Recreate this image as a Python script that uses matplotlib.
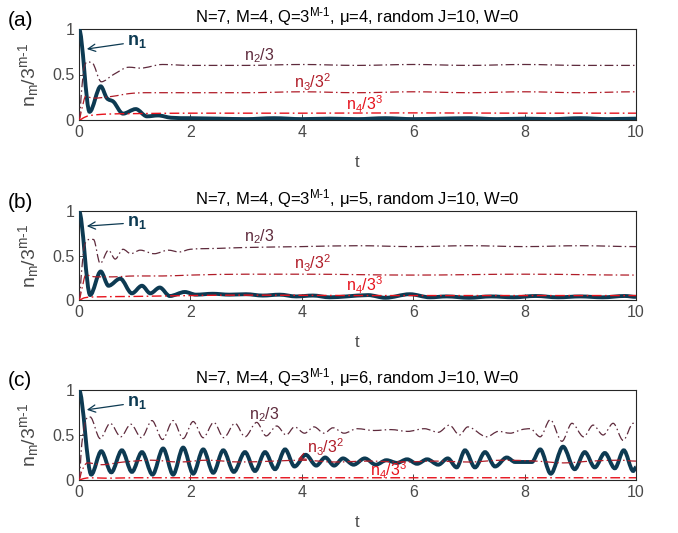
import matplotlib
matplotlib.use("Agg")
import matplotlib.pyplot as plt
from matplotlib.path import Path
from matplotlib.patches import PathPatch

plt.rcParams['font.family'] = ['Liberation Sans', 'DejaVu Sans']
plt.rcParams['mathtext.fontset'] = 'custom'
plt.rcParams['mathtext.rm'] = 'Liberation Sans'
plt.rcParams['mathtext.it'] = 'Liberation Sans:italic'
plt.rcParams['mathtext.bf'] = 'Liberation Sans:bold'

# ---- data ----
# panel (a), mu=4
t_a_n1 = [0, 0.19, 0.39, 0.5, 0.62, 0.79, 1.02, 1.22, 1.42, 1.65, 2.0, 2.5, 3.0, 3.5, 4.0,
          4.5, 5.0, 5.5, 6.0, 6.5, 7.0, 7.5, 8.0, 8.5, 9.0, 9.5, 10.0]
a_n1 = [1.0, 0.09, 0.37, 0.24, 0.2, 0.07, 0.12, 0.04, 0.05, 0.025, 0.02, 0.015, 0.01, 0.02, 0.01,
        0.015, 0.01, 0.02, 0.01, 0.015, 0.02, 0.01, 0.015, 0.01, 0.02, 0.01, 0.015]
t_a_n2 = [0, 0.05, 0.1, 0.23, 0.4, 0.62, 0.9, 1.1, 1.5, 2.0, 3.0, 4.0, 5.0, 6.0, 7.0, 8.0, 9.0, 10.0]
a_n2 = [0, 0.35, 0.6, 0.63, 0.42, 0.5, 0.58, 0.57, 0.61, 0.6, 0.6, 0.61, 0.6, 0.61, 0.6, 0.61, 0.6, 0.6]
t_a_n3 = [0, 0.05, 0.12, 0.25, 0.6, 0.9, 1.2, 2.0, 3.0, 4.0, 5.0, 6.0, 7.0, 8.0, 9.0, 10.0]
a_n3 = [0, 0.12, 0.26, 0.24, 0.26, 0.29, 0.3, 0.3, 0.3, 0.31, 0.3, 0.31, 0.3, 0.31, 0.3, 0.31]
t_a_n4 = [0, 0.1, 0.2, 0.5, 1.0, 2.0, 4.0, 6.0, 8.0, 10.0]
a_n4 = [0, 0.03, 0.05, 0.065, 0.07, 0.075, 0.075, 0.078, 0.075, 0.075]

# panel (b), mu=5
t_b_n1 = [0, 0.2, 0.39, 0.53, 0.74, 0.95, 1.13, 1.28, 1.45, 1.63, 1.9, 2.1, 2.4, 2.7, 3.0, 3.3,
          3.6, 3.9, 4.2, 4.5, 4.8, 5.19, 5.5, 5.94, 6.3, 6.6, 7.0, 7.4, 7.8, 8.2, 8.6, 9.0, 9.4,
          9.8, 10.0]
b_n1 = [1.0, 0.056, 0.32, 0.16, 0.24, 0.075, 0.16, 0.075, 0.14, 0.045, 0.09, 0.06, 0.07, 0.06,
        0.065, 0.05, 0.06, 0.04, 0.05, 0.03, 0.04, 0.055, 0.025, 0.065, 0.03, 0.04, 0.025, 0.04,
        0.03, 0.045, 0.03, 0.04, 0.03, 0.045, 0.035]
t_b_n2 = [0, 0.05, 0.1, 0.26, 0.38, 0.53, 0.65, 0.79, 0.93, 1.1, 1.35, 1.6, 1.8, 2.0, 2.5, 3.0,
          4.0, 5.0, 6.0, 7.0, 8.0, 9.0, 10.0]
b_n2 = [0, 0.35, 0.62, 0.68, 0.41, 0.56, 0.46, 0.57, 0.52, 0.56, 0.52, 0.56, 0.54, 0.57, 0.58,
        0.59, 0.6, 0.61, 0.6, 0.61, 0.6, 0.61, 0.6]
t_b_n3 = [0, 0.05, 0.12, 0.3, 0.6, 1.0, 1.5, 2.0, 3.0, 4.0, 6.0, 8.0, 10.0]
b_n3 = [0, 0.12, 0.28, 0.26, 0.26, 0.27, 0.27, 0.28, 0.29, 0.29, 0.28, 0.29, 0.28]
t_b_n4 = [0, 0.1, 0.3, 1.0, 2.0, 3.0, 5.0, 7.0, 10.0]
b_n4 = [0, 0.025, 0.035, 0.04, 0.05, 0.055, 0.05, 0.05, 0.05]

# panel (c), mu=6
t_c_n1 = [0, 0.22, 0.40, 0.58, 0.77, 0.95, 1.13, 1.32, 1.51, 1.69, 1.87, 2.05, 2.23, 2.41, 2.59,
          2.78, 2.98, 3.16, 3.34, 3.52, 3.70, 3.87, 4.07, 4.26, 4.42, 4.58, 4.74, 4.93, 5.13,
          5.33, 5.52, 5.71, 5.89, 6.07, 6.25, 6.45, 6.62, 6.78, 6.93, 7.11, 7.29, 7.47, 7.68,
          7.83, 8.0, 8.13, 8.28, 8.47, 8.69, 8.9, 9.08, 9.26, 9.44, 9.62, 9.78, 9.95, 10.0]
c_n1 = [1.0, 0.06, 0.32, 0.085, 0.33, 0.09, 0.31, 0.06, 0.35, 0.06, 0.36, 0.07, 0.34, 0.08, 0.33,
        0.09, 0.31, 0.10, 0.31, 0.12, 0.34, 0.15, 0.28, 0.16, 0.25, 0.16, 0.24, 0.17, 0.24,
        0.17, 0.22, 0.19, 0.23, 0.18, 0.23, 0.17, 0.24, 0.14, 0.33, 0.14, 0.31, 0.15, 0.25,
        0.2, 0.2, 0.2, 0.34, 0.07, 0.37, 0.12, 0.31, 0.14, 0.3, 0.13, 0.33, 0.1, 0.14]
t_c_n2 = [0, 0.05, 0.12, 0.2, 0.38, 0.56, 0.75, 0.93, 1.12, 1.31, 1.5, 1.69, 1.87, 2.05, 2.23,
          2.42, 2.6, 2.8, 2.98, 3.19, 3.36, 3.55, 3.72, 3.87, 4.05, 4.22, 4.4, 4.56, 4.76, 4.99,
          5.3, 5.6, 5.9, 6.2, 6.45, 6.65, 6.83, 6.98, 7.32, 7.53, 7.74, 7.95, 8.1, 8.28, 8.46,
          8.67, 8.85, 9.06, 9.23, 9.41, 9.59, 9.77, 9.95, 10.0]
c_n2 = [0, 0.4, 0.66, 0.70, 0.46, 0.63, 0.48, 0.62, 0.47, 0.66, 0.45, 0.66, 0.46, 0.65, 0.47,
        0.64, 0.47, 0.63, 0.48, 0.64, 0.49, 0.6, 0.5, 0.59, 0.52, 0.59, 0.52, 0.58, 0.52, 0.57,
        0.55, 0.56, 0.54, 0.57, 0.53, 0.61, 0.5, 0.59, 0.48, 0.54, 0.52, 0.56, 0.57, 0.48, 0.67,
        0.43, 0.63, 0.48, 0.61, 0.5, 0.63, 0.44, 0.63, 0.62]
t_c_n3 = [0, 0.05, 0.15, 0.4, 0.8, 1.3, 1.8, 2.3, 2.9, 3.5, 4.0, 4.6, 5.2, 5.8, 6.4, 7.0, 7.6,
          8.2, 8.7, 9.2, 9.7, 10.0]
c_n3 = [0, 0.1, 0.19, 0.17, 0.2, 0.22, 0.2, 0.22, 0.2, 0.21, 0.22, 0.2, 0.21, 0.2, 0.21, 0.2,
        0.22, 0.21, 0.19, 0.21, 0.22, 0.21]
t_c_n4 = [0, 0.08, 0.2, 0.5, 1.0, 2.0, 4.0, 6.0, 8.0, 10.0]
c_n4 = [0, 0.015, 0.025, 0.02, 0.025, 0.025, 0.025, 0.025, 0.025, 0.025]

mus = [4, 5, 6]
panel_tags = ['(a)', '(b)', '(c)']
x_ticks = [0, 2, 4, 6, 8, 10]
y_ticks = [0, 0.5, 1]
y_tick_labels = ['0', '0.5', '1']

c1 = '#0d3a52'
c2 = '#5e2a3c'
c3 = '#b01c28'
c4 = '#e6121c'
dashdot = (0, (7, 2.5, 1.2, 2.5))


def smooth_curve(ax, t, y, **kw):
    # cubic bezier through the read points, flat at local extrema
    n = len(t)
    m = []
    for i in range(n):
        if i == 0 or i == n - 1:
            m.append(0.0)
        elif (y[i] >= y[i-1] and y[i] >= y[i+1]) or (y[i] <= y[i-1] and y[i] <= y[i+1]):
            m.append(0.0)
        else:
            m.append((y[i+1] - y[i-1]) / (t[i+1] - t[i-1]))
    verts = [(t[0], y[0])]
    codes = [Path.MOVETO]
    for i in range(n - 1):
        h = t[i+1] - t[i]
        verts += [(t[i] + h/3, y[i] + m[i]*h/3),
                  (t[i+1] - h/3, y[i+1] - m[i+1]*h/3),
                  (t[i+1], y[i+1])]
        codes += [Path.CURVE4] * 3
    p = PathPatch(Path(verts, codes), fill=False, **kw)
    ax.add_patch(p)


fig = plt.figure(figsize=(6.78, 5.33), dpi=100)
W, H = 678, 533
boxes = [(29, 120), (211, 300), (390, 480)]
series = [
    (t_a_n1, a_n1, t_a_n2, a_n2, t_a_n3, a_n3, t_a_n4, a_n4),
    (t_b_n1, b_n1, t_b_n2, b_n2, t_b_n3, b_n3, t_b_n4, b_n4),
    (t_c_n1, c_n1, t_c_n2, c_n2, t_c_n3, c_n3, t_c_n4, c_n4),
]

for k in range(3):
    top, bot = boxes[k]
    ax = fig.add_axes([79 / W, 1 - bot / H, (636 - 79) / W, (bot - top) / H])
    s = series[k]
    smooth_curve(ax, s[0], s[1], color=c1, lw=2.8, zorder=3)
    smooth_curve(ax, s[2], s[3], color=c2, lw=0.9, linestyle=dashdot, zorder=4)
    smooth_curve(ax, s[4], s[5], color=c3, lw=0.9, linestyle=dashdot, zorder=4)
    smooth_curve(ax, s[6], s[7], color=c4, lw=1.0, linestyle=dashdot, zorder=4)

    ax.set_xlim(0, 10)
    ax.set_ylim(0, 1)
    ax.set_xticks(x_ticks)
    ax.set_yticks(y_ticks)
    ax.set_yticklabels(y_tick_labels)
    ax.tick_params(direction='in', length=4, top=False, right=False,
                   labelsize=11.5, labelcolor='#4a4a4a', color='#262626', width=0.6)
    for sp in ax.spines.values():
        sp.set_color('#262626')
        sp.set_linewidth(0.8)
    ax.set_xlabel('t', fontsize=12, color='#4a4a4a', labelpad=11)
    ax.set_ylabel(r'n$_\mathregular{m}$/3$^\text{m-1}$', fontsize=14, color='#4a4a4a',
                  labelpad=8)
    ax.set_title(r'N=7, M=4, Q=3$^\text{M-1}$, μ=%d, random J=10, W=0' % mus[k],
                 fontsize=12, pad=5)
    fig.text(8 / W, 1 - (top - 9) / H, panel_tags[k], fontsize=15, va='center', ha='left')

    # n1 arrow label
    ax.annotate(r'$\mathbf{n_1}$', xy=(0.14, 0.78 if k != 1 else 0.83),
                xytext=(0.87, 0.86 if k != 1 else 0.87),
                fontsize=13, color=c1, va='center', ha='left',
                arrowprops=dict(arrowstyle='->', color=c1, lw=0.9, shrinkA=1, shrinkB=0))
    ax.text(3.23 if k != 2 else 3.32, 0.71 if k != 2 else 0.73, r'n$_\mathregular{2}$/3',
            color=c2, fontsize=11.5, ha='center', va='center')
    if k < 2:
        ax.text(4.19, 0.41, r'n$_\mathregular{3}$/3$^\mathregular{2}$', color=c3,
                fontsize=11.5, ha='center', va='center')
        ax.text(5.13, 0.17, r'n$_\mathregular{4}$/3$^\mathregular{3}$', color=c4,
                fontsize=11.5, ha='center', va='center')
    else:
        ax.annotate(r'n$_\mathregular{3}$/3$^\mathregular{2}$', xy=(3.93, 0.23),
                    xytext=(4.43, 0.36), color=c3, fontsize=11.5, ha='center', va='center',
                    arrowprops=dict(arrowstyle='->', color=c3, lw=0.9, shrinkA=2, shrinkB=0))
        ax.text(5.55, 0.11, r'n$_\mathregular{4}$/3$^\mathregular{3}$', color=c4,
                fontsize=11.5, ha='center', va='center')

fig.savefig('out.png', dpi=100)
